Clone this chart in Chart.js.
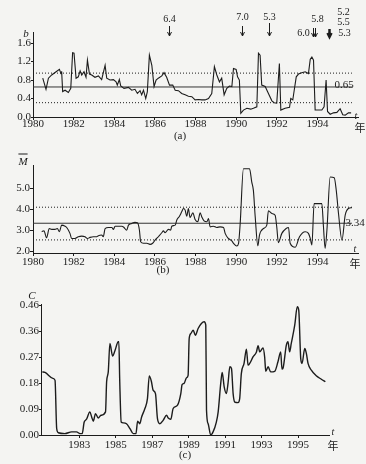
<!DOCTYPE html>
<html lang="zh">
<head>
<meta charset="UTF-8">
<title>b值、M均值与C值随时间变化</title>
<script src="https://cdn.jsdelivr.net/npm/chart.js"></script>
<style>
    body { margin: 0; background: #f4f4f2; }
    #fig { position: relative; width: 366px; height: 464px; font-family: 'Liberation Serif', serif; color: #1c1c1c; }
    canvas { position: absolute; left: 0; }
    .lbl { position: absolute; transform: translate(-50%, -50%); font-size: 11px; line-height: 1; white-space: nowrap; }
    .it { font-style: italic; }
    .cjk { font-family: 'Noto Sans CJK SC', sans-serif; font-size: 11px; }
</style>
</head>
<body>
<div id="fig">
    <canvas id="chartA" width="366" height="140" style="top:0"></canvas>
    <canvas id="chartB" width="366" height="140" style="top:140px"></canvas>
    <canvas id="chartC" width="366" height="184" style="top:280px"></canvas>

    <div class="lbl it" style="left:26px; top:33px;">b</div>
    <div class="lbl" style="left:344px; top:84px;">0.65</div>
    <div class="lbl it" style="left:356px; top:116px; font-size:10px;">t</div>
    <div class="lbl cjk" style="left:360px; top:127px;">年</div>
    <div class="lbl" style="left:180px; top:135px;">(a)</div>

    <div class="lbl it" style="left:23px; top:161px;"><span style="text-decoration:overline">M</span></div>
    <div class="lbl" style="left:355px; top:222px;">3.34</div>
    <div class="lbl it" style="left:355px; top:249px; font-size:10px;">t</div>
    <div class="lbl cjk" style="left:355px; top:263px;">年</div>
    <div class="lbl" style="left:163px; top:269px;">(b)</div>

    <div class="lbl it" style="left:32px; top:295px;">C</div>
    <div class="lbl it" style="left:333px; top:432px; font-size:10px;">t</div>
    <div class="lbl cjk" style="left:333px; top:445px;">年</div>
    <div class="lbl" style="left:185px; top:454px;">(c)</div>
</div>
<script>
    // (a) b 值
    const bYears = [1980.48,1980.64,1980.76,1980.92,1981.17,1981.30,1981.38,1981.41,1981.46,1981.58,1981.74,1981.86,1981.95,1982.02,1982.12,1982.23,1982.32,1982.40,1982.51,1982.61,1982.68,1982.78,1982.89,1983.05,1983.22,1983.38,1983.55,1983.63,1983.79,1983.96,1984.09,1984.15,1984.25,1984.32,1984.48,1984.70,1984.86,1985.02,1985.14,1985.27,1985.35,1985.44,1985.55,1985.63,1985.73,1985.85,1985.96,1986.06,1986.17,1986.34,1986.45,1986.58,1986.72,1986.88,1987.00,1987.16,1987.32,1987.49,1987.65,1987.82,1987.98,1988.14,1988.31,1988.47,1988.64,1988.80,1988.93,1989.05,1989.18,1989.29,1989.41,1989.54,1989.67,1989.79,1989.87,1990.00,1990.07,1990.16,1990.23,1990.36,1990.53,1990.72,1990.85,1991.02,1991.10,1991.18,1991.26,1991.43,1991.59,1991.76,1991.87,1992.00,1992.13,1992.20,1992.41,1992.63,1992.69,1992.79,1992.86,1992.96,1993.07,1993.23,1993.40,1993.56,1993.65,1993.73,1993.81,1993.89,1994.06,1994.22,1994.33,1994.43,1994.50,1994.63,1994.79,1994.96,1995.12,1995.25,1995.37,1995.53,1995.66];
    const bValues = [0.84,0.60,0.84,0.91,0.99,1.03,0.94,0.99,0.55,0.58,0.53,0.62,1.39,1.38,0.84,0.87,1.00,0.91,0.98,0.86,1.23,0.93,0.91,0.86,0.89,0.81,1.12,0.84,0.80,0.81,0.76,0.69,0.81,0.67,0.62,0.64,0.58,0.60,0.51,0.57,0.48,0.58,0.40,0.55,1.34,1.12,0.66,0.80,0.84,0.89,0.96,0.86,0.69,0.69,0.58,0.57,0.51,0.48,0.45,0.44,0.37,0.38,0.37,0.37,0.40,0.51,1.09,0.91,0.76,0.84,0.48,0.62,0.67,0.66,1.05,1.03,0.87,0.80,0.08,0.15,0.19,0.17,0.19,0.22,1.38,1.34,0.69,0.66,0.51,0.35,0.31,0.30,1.16,0.15,0.19,0.21,0.40,0.37,0.58,0.87,0.93,0.96,0.98,0.94,1.25,1.30,1.23,0.15,0.15,0.15,0.22,0.80,0.12,0.06,0.09,0.10,0.18,0.05,0.04,0.09,0.09];
    const bMean = 0.65, bUpper = 0.95, bLower = 0.31;
    const bTicks = [0, 0.4, 0.8, 1.2, 1.6];
    const bTickLabels = ['0.0', '0.4', '0.8', '1.2', '1.6'];

    // 地震标注 (年份, 震级)
    const quakeYears = [1986.7, 1990.3, 1991.6, 1993.85, 1994.55];
    const quakeMags = [['6.4'], ['7.0'], ['5.3'], ['5.8', '6.0'], ['5.2', '5.5', '5.3']];

    // (b) 平均震级
    const mYears = [1980.43,1980.54,1980.67,1980.80,1980.92,1981.08,1981.20,1981.30,1981.41,1981.58,1981.66,1981.82,1981.90,1982.07,1982.23,1982.40,1982.56,1982.68,1982.81,1982.97,1983.14,1983.22,1983.38,1983.46,1983.55,1983.71,1983.88,1983.96,1984.04,1984.20,1984.37,1984.48,1984.61,1984.70,1984.86,1985.02,1985.14,1985.24,1985.30,1985.44,1985.60,1985.76,1985.89,1986.01,1986.17,1986.34,1986.42,1986.50,1986.67,1986.78,1986.83,1987.00,1987.08,1987.21,1987.32,1987.41,1987.49,1987.57,1987.65,1987.73,1987.87,1987.98,1988.11,1988.23,1988.31,1988.42,1988.56,1988.64,1988.72,1988.88,1989.05,1989.21,1989.38,1989.46,1989.62,1989.79,1989.87,1990.03,1990.12,1990.20,1990.36,1990.66,1990.77,1990.85,1990.94,1991.07,1991.15,1991.35,1991.51,1991.59,1991.76,1991.92,1992.00,1992.08,1992.25,1992.46,1992.58,1992.66,1992.91,1993.12,1993.40,1993.56,1993.65,1993.73,1993.84,1994.22,1994.30,1994.38,1994.47,1994.63,1994.83,1994.93,1995.04,1995.21,1995.37,1995.53,1995.70];
    const mValues = [2.94,2.98,2.65,3.09,3.05,3.05,3.09,2.94,3.25,3.20,3.14,2.86,2.62,2.62,2.70,2.73,2.70,2.62,2.67,2.70,2.70,2.75,2.78,2.70,3.09,3.14,3.14,3.05,3.20,3.20,3.20,3.14,3.01,3.25,3.33,3.38,3.36,3.01,2.46,2.39,2.39,2.34,2.39,2.54,2.70,2.89,2.98,2.89,3.05,3.01,3.20,3.25,3.49,3.67,3.88,4.04,3.96,3.67,4.04,3.61,3.83,3.52,3.41,3.83,3.64,3.45,3.41,3.56,3.17,3.20,3.14,3.17,3.14,2.86,2.62,2.50,2.39,2.26,2.39,3.33,5.92,5.92,5.29,4.90,3.64,2.27,2.78,3.09,3.25,3.93,3.80,3.72,3.17,2.42,2.86,3.09,3.14,2.39,2.20,2.70,2.94,2.86,2.62,2.31,4.27,4.27,3.17,2.15,3.01,5.53,5.50,4.90,3.80,2.54,3.72,4.04,4.08];
    const mMean = 3.34, mUpper = 4.1, mLower = 2.55;
    const mTicks = [2, 3, 4, 5];
    const mTickLabels = ['2.0', '3.0', '4.0', '5.0'];

    // (c) C 值
    const cYears = [1980.97,1981.12,1981.58,1981.67,1981.76,1981.85,1982.21,1982.58,1982.85,1983.04,1983.16,1983.27,1983.40,1983.58,1983.68,1983.77,1983.89,1984.04,1984.19,1984.44,1984.50,1984.59,1984.68,1984.83,1984.95,1985.14,1985.17,1985.22,1985.30,1985.41,1985.59,1985.78,1985.96,1986.11,1986.20,1986.32,1986.42,1986.60,1986.74,1986.84,1986.96,1987.05,1987.18,1987.29,1987.42,1987.60,1987.79,1987.88,1988.02,1988.15,1988.39,1988.57,1988.64,1988.75,1988.88,1988.97,1989.03,1989.12,1989.25,1989.37,1989.52,1989.70,1989.85,1989.94,1989.98,1990.07,1990.21,1990.34,1990.52,1990.62,1990.76,1990.84,1990.95,1991.07,1991.16,1991.26,1991.35,1991.44,1991.53,1991.71,1991.80,1991.89,1992.04,1992.17,1992.26,1992.35,1992.53,1992.72,1992.81,1992.90,1993.08,1993.17,1993.23,1993.36,1993.50,1993.72,1993.90,1994.05,1994.12,1994.18,1994.36,1994.45,1994.54,1994.63,1994.82,1994.96,1995.04,1995.15,1995.22,1995.37,1995.46,1995.55,1995.73,1996.00,1996.28,1996.50];
    const cValues = [0.224,0.222,0.200,0.194,0.023,0.008,0.005,0.011,0.011,0.005,0.005,0.046,0.056,0.082,0.064,0.049,0.076,0.060,0.070,0.082,0.189,0.224,0.325,0.280,0.298,0.331,0.331,0.190,0.046,0.043,0.040,0.023,0.005,0.005,0.049,0.040,0.064,0.094,0.129,0.210,0.189,0.159,0.147,0.058,0.040,0.052,0.070,0.060,0.056,0.094,0.106,0.147,0.179,0.183,0.203,0.212,0.343,0.360,0.372,0.354,0.378,0.396,0.402,0.390,0.088,0.040,0.000,0.011,0.046,0.082,0.183,0.222,0.171,0.147,0.183,0.242,0.236,0.147,0.117,0.115,0.129,0.218,0.254,0.305,0.248,0.254,0.277,0.295,0.317,0.295,0.309,0.277,0.226,0.242,0.224,0.226,0.260,0.295,0.234,0.238,0.319,0.331,0.295,0.325,0.390,0.455,0.443,0.271,0.254,0.307,0.289,0.254,0.230,0.210,0.198,0.189];
    const cTicks = [0, 0.092, 0.184, 0.276, 0.368, 0.46];
    const cTickLabels = ['0.00', '0.09', '0.18', '0.27', '0.36', '0.46'];

    const yearTicksAB = [1980, 1982, 1984, 1986, 1988, 1990, 1992, 1994];
    const yearTicksC = [1983, 1985, 1987, 1989, 1991, 1993, 1995];

    const ink = '#1c1c1c';
    const tickFont = { family: 'Liberation Serif', size: 11 };

    function series(xs, ys) {
        return xs.map((x, i) => ({ x: x, y: ys[i] }));
    }

    function curve(xs, ys, width, smooth) {
        return {
            data: series(xs, ys), borderColor: ink, borderWidth: width, pointRadius: 0,
            cubicInterpolationMode: smooth ? 'monotone' : 'default'
        };
    }

    function refLine(x0, x1, y, dash, color) {
        return {
            data: [{ x: x0, y: y }, { x: x1, y: y }],
            borderColor: color || ink, borderWidth: 1, borderDash: dash, pointRadius: 0
        };
    }

    function axisX(min, max, ticks, height, pad) {
        return {
            type: 'linear', min: min, max: max,
            afterBuildTicks: s => { s.ticks = ticks.map(v => ({ value: v })); },
            afterFit: s => { s.height = height; },
            ticks: { font: tickFont, color: ink, padding: pad, maxRotation: 0, autoSkip: false, callback: v => String(v) },
            grid: { drawOnChartArea: false, tickLength: 3, color: ink },
            border: { color: ink, width: 1 }
        };
    }

    function axisY(min, max, ticks, labels, width, tickLen) {
        return {
            type: 'linear', min: min, max: max,
            afterBuildTicks: s => { s.ticks = ticks.map(v => ({ value: v })); },
            afterFit: s => { s.width = width; },
            ticks: { font: tickFont, color: ink, padding: 0, autoSkip: false, callback: (v, i) => labels[i] },
            grid: { drawOnChartArea: false, tickLength: tickLen, color: ink },
            border: { color: ink, width: 1 }
        };
    }

    // arrows + magnitudes above panel (a)
    const quakePlugin = {
        id: 'quakes',
        afterDraw(chart) {
            const ctx = chart.ctx;
            const xs = chart.scales.x;
            ctx.save();
            ctx.strokeStyle = ink;
            ctx.fillStyle = ink;
            ctx.font = '10px "Liberation Serif"';
            ctx.textAlign = 'center';
            ctx.textBaseline = 'middle';
            const arrow = (x, y0, y1, w) => {
                ctx.lineWidth = w || 1;
                ctx.beginPath();
                ctx.moveTo(x, y0); ctx.lineTo(x, y1);
                ctx.moveTo(x - 2, y1 - 4); ctx.lineTo(x, y1); ctx.lineTo(x + 2, y1 - 4);
                ctx.stroke();
            };
            quakeYears.forEach((yr, i) => {
                const x = Math.round(xs.getPixelForValue(yr)) + 0.5;
                const mags = quakeMags[i];
                if (mags.length === 1) {
                    ctx.fillText(mags[0], x, i === 0 ? 19 : 17);
                    arrow(x, i === 2 ? 23 : 26, 36);
                } else if (mags.length === 2) {
                    ctx.fillText(mags[0], x + 3, 19);
                    ctx.fillText(mags[1], x - 11, 33);
                    arrow(x - 1, 28, 37);
                    arrow(x + 1, 28, 37);
                } else {
                    ctx.fillText(mags[0], x + 14, 12);
                    ctx.fillText(mags[1], x + 14, 22);
                    ctx.fillText(mags[2], x + 15, 33);
                    arrow(x, 29, 37, 2.5);
                }
            });
            ctx.restore();
        }
    };

    function draw(id, datasets, scales, padding, plugins) {
        return new Chart(document.getElementById(id), {
            type: 'line',
            data: { datasets: datasets },
            options: {
                responsive: false,
                animation: false,
                layout: { padding: padding },
                plugins: { legend: { display: false }, tooltip: { enabled: false } },
                scales: scales
            },
            plugins: plugins || []
        });
    }

    draw('chartA', [
        curve(bYears, bValues, 1.1, false),
        refLine(1980, 1995.7, bUpper, [1, 2]),
        refLine(1980, 1995.7, bMean, [], '#333'),
        refLine(1980, 1995.7, bLower, [1, 2])
    ], {
        x: axisX(1980, 1996, yearTicksAB, 23, -2),
        y: axisY(0, 1.84, bTicks, bTickLabels, 33, 2)
    }, { left: 0, right: 8, top: 32, bottom: 0 }, [quakePlugin]);

    draw('chartB', [
        curve(mYears, mValues, 1.1, true),
        refLine(1980, 1995.7, mUpper, [1, 2]),
        refLine(1980, 1995.7, mMean, [], '#333'),
        refLine(1980, 1995.7, mLower, [1, 2])
    ], {
        x: axisX(1980, 1996, yearTicksAB, 27, 0),
        y: axisY(1.93, 6.1, mTicks, mTickLabels, 33, 3)
    }, { left: 0, right: 8, top: 25, bottom: 0 });

    draw('chartC', [
        curve(cYears, cValues, 1.4, true)
    ], {
        x: axisX(1980.9, 1996.7, yearTicksC, 29, 1),
        y: axisY(0, 0.465, cTicks, cTickLabels, 41, 2)
    }, { left: 0, right: 37, top: 24, bottom: 0 });
</script>
</body>
</html>
